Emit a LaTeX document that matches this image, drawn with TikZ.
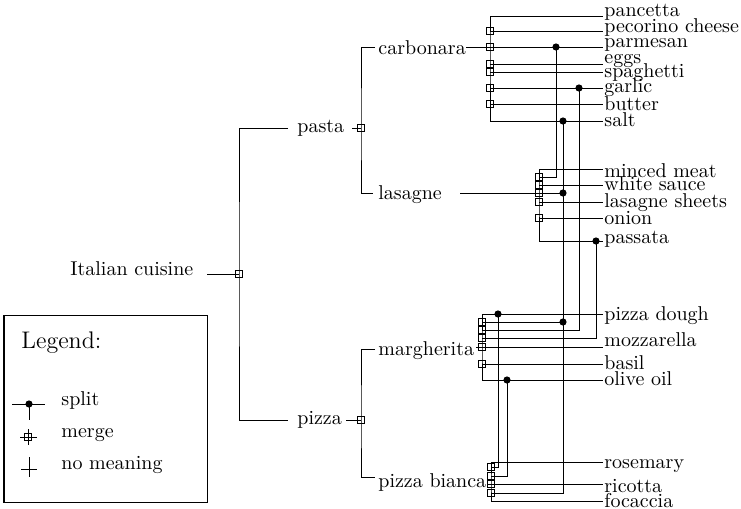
\documentclass[tikz,border=0pt]{standalone}
\usepackage{amsmath}
\usepackage{tikz}
\usetikzlibrary{calc}

\tikzset{
  wire/.style={line width=0.5pt},
  lbl/.style={anchor=base west,inner sep=0pt},
  mergebox/.style={draw,rectangle,line width=0.4pt,minimum size=3.3pt,inner sep=0pt},
  splitdot/.style={fill,circle,minimum size=3.6pt,inner sep=0pt}
}

\begin{document}
\begin{tikzpicture}[x=0.5pt,y=-0.5pt]
    \useasboundingbox (0,0) rectangle (741,509);
    % dishes
    \node[lbl] (cuisine) at (70,275) {Italian cuisine};
    \node[lbl] (pasta) at (297,132) {pasta};
    \node[lbl] (pizza) at (297,424) {pizza};
    \node[lbl] (carb) at (378,54) {carbonara};
    \node[lbl] (lasa) at (378,199) {lasagne};
    \node[lbl] (marg) at (378,355) {margherita};
    \node[lbl] (bian) at (378,487) {pizza bianca};
    % ingredients
    \node[lbl] (panc) at (604,16.5) {pancetta};
    \node[lbl] (peco) at (604,32) {pecorino cheese};
    \node[lbl] (parm) at (604,47.5) {parmesan};
    \node[lbl] (eggs) at (604,63) {eggs};
    \node[lbl] (spag) at (604,77.5) {spaghetti};
    \node[lbl] (garl) at (604,92.5) {garlic};
    \node[lbl] (butt) at (604,110) {butter};
    \node[lbl] (salt) at (604,126) {salt};
    \node[lbl] (minc) at (604,177) {minced meat};
    \node[lbl] (whit) at (604,190.5) {white sauce};
    \node[lbl] (shee) at (604,207.5) {lasagne sheets};
    \node[lbl] (onio) at (604,224.5) {onion};
    \node[lbl] (pass) at (604,243.5) {passata};
    \node[lbl] (doug) at (604,320.5) {pizza dough};
    \node[lbl] (mozz) at (604,346.5) {mozzarella};
    \node[lbl] (basi) at (604,369.5) {basil};
    \node[lbl] (oliv) at (604,385.5) {olive oil};
    \node[lbl] (rose) at (604,468) {rosemary};
    \node[lbl] (rico) at (604,492.5) {ricotta};
    \node[lbl] (foca) at (604,507.5) {focaccia};

    % ports next to the texts
    \coordinate (cuisine-r) at (207,274);
    \coordinate (pasta-l) at (288,128);
    \coordinate (pasta-r) at (352,128);
    \coordinate (pizza-l) at (288,420);
    \coordinate (pizza-r) at (346,420);
    \coordinate (carb-l) at (375,47);
    \coordinate (carb-r) at (466,47);
    \coordinate (lasa-l) at (373,193);
    \coordinate (lasa-r) at (460,193);
    \coordinate (marg-l) at (375,349);
    \coordinate (marg-r) at (476,347);
    \coordinate (bian-l) at (375,477);
    \coordinate (bian-r) at (487,484);
    \coordinate (panc-p) at (603,16);
    \coordinate (peco-p) at (603,31);
    \coordinate (parm-p) at (603,47);
    \coordinate (eggs-p) at (603,64);
    \coordinate (spag-p) at (603,72);
    \coordinate (garl-p) at (603,88);
    \coordinate (butt-p) at (603,104);
    \coordinate (salt-p) at (603,121);
    \coordinate (minc-p) at (603,169);
    \coordinate (whit-p) at (603,185);
    \coordinate (shee-p) at (603,202);
    \coordinate (onio-p) at (603,218);
    \coordinate (pass-p) at (603,241);
    \coordinate (doug-p) at (603,314);
    \coordinate (mozz-p) at (603,347);
    \coordinate (basi-p) at (603,364);
    \coordinate (oliv-p) at (603,380);
    \coordinate (rose-p) at (603,462);
    \coordinate (rico-p) at (603,484);
    \coordinate (foca-p) at (603,501);

    % merge points
    \coordinate (m-cuisine) at (239,274);
    \coordinate (m-pasta) at (361,128);
    \coordinate (m-pizza) at (361,420);
    \coordinate (m-peco) at (490,31);
    \coordinate (m-parm) at (490,47);
    \coordinate (m-eggs) at (490,64);
    \coordinate (m-spag) at (490,72);
    \coordinate (m-garl) at (490,88);
    \coordinate (m-butt) at (490,104);
    \coordinate (m-lparm) at (539,177);
    \coordinate (m-whit) at (539,185);
    \coordinate (m-lasa) at (539,193);
    \coordinate (m-shee) at (539,202);
    \coordinate (m-onio) at (539,218);
    \coordinate (m-msalt) at (482,322);
    \coordinate (m-mgarl) at (482,330);
    \coordinate (m-mpass) at (482,338);
    \coordinate (m-marg) at (482,347);
    \coordinate (m-basi) at (482,364);
    \coordinate (m-bdoug) at (491,467);
    \coordinate (m-boliv) at (491,476);
    \coordinate (m-bian) at (491,484);
    \coordinate (m-bsalt) at (491,493);

    % split points
    \coordinate (s-parm) at (556,47);
    \coordinate (s-garl) at (579,88);
    \coordinate (s-salt) at (563,121);
    \coordinate (s-lsalt) at (563,193);
    \coordinate (s-msalt) at (563,322);
    \coordinate (s-pass) at (596,241);
    \coordinate (s-doug) at (498,314);
    \coordinate (s-oliv) at (507,380);

    % tree
    \draw[wire] (cuisine-r) -- (m-cuisine);
    \draw[wire] (pasta-l) -| (m-cuisine) |- (pizza-l);
    \draw[wire] (pasta-r) -- (m-pasta);
    \draw[wire] (carb-l) -| (m-pasta) |- (lasa-l);
    \draw[wire] (pizza-r) -- (m-pizza);
    \draw[wire] (marg-l) -| (m-pizza) |- (bian-l);

    % carbonara
    \draw[wire] (carb-r) -- (m-parm);
    \draw[wire] (panc-p) -| (m-parm) |- (salt-p);
    \path[wire]
      (m-peco) edge (peco-p)
      (m-parm) edge (parm-p)
      (m-eggs) edge (eggs-p)
      (m-spag) edge (spag-p)
      (m-garl) edge (garl-p)
      (m-butt) edge (butt-p);

    % lasagne
    \draw[wire] (lasa-r) -- (m-lasa);
    \draw[wire] (minc-p) -| (m-lasa) |- (pass-p);
    \path[wire]
      (m-whit) edge (whit-p)
      (m-shee) edge (shee-p)
      (m-onio) edge (onio-p);

    % margherita
    \draw[wire] (marg-r) -- (m-marg);
    \draw[wire] (doug-p) -| (m-marg) |- (oliv-p);
    \path[wire]
      (m-marg) edge (mozz-p)
      (m-basi) edge (basi-p);

    % pizza bianca
    \draw[wire] (bian-r) -- (m-bian);
    \draw[wire] (rose-p) -| (m-bian) |- (foca-p);
    \path[wire] (m-bian) edge (rico-p);

    % shared ingredients
    \draw[wire] (s-parm) |- (m-lparm);
    \draw[wire] (s-salt) |- (m-bsalt);
    \draw[wire] (m-lasa) -- (s-lsalt);
    \draw[wire] (m-msalt) -- (s-msalt);
    \draw[wire] (s-garl) |- (m-mgarl);
    \draw[wire] (s-pass) |- (m-mpass);
    \draw[wire] (s-doug) |- (m-bdoug);
    \draw[wire] (s-oliv) |- (m-boliv);

    % merge boxes
    \node[mergebox] (b-cuisine) at (m-cuisine) {};
    \node[mergebox] (b-pasta) at (m-pasta) {};
    \node[mergebox] (b-pizza) at (m-pizza) {};
    \node[mergebox] (b-peco) at (m-peco) {};
    \node[mergebox] (b-parm) at (m-parm) {};
    \node[mergebox] (b-eggs) at (m-eggs) {};
    \node[mergebox] (b-spag) at (m-spag) {};
    \node[mergebox] (b-garl) at (m-garl) {};
    \node[mergebox] (b-butt) at (m-butt) {};
    \node[mergebox] (b-lparm) at (m-lparm) {};
    \node[mergebox] (b-whit) at (m-whit) {};
    \node[mergebox] (b-lasa) at (m-lasa) {};
    \node[mergebox] (b-shee) at (m-shee) {};
    \node[mergebox] (b-onio) at (m-onio) {};
    \node[mergebox] (b-msalt) at (m-msalt) {};
    \node[mergebox] (b-mgarl) at (m-mgarl) {};
    \node[mergebox] (b-mpass) at (m-mpass) {};
    \node[mergebox] (b-marg) at (m-marg) {};
    \node[mergebox] (b-basi) at (m-basi) {};
    \node[mergebox] (b-bdoug) at (m-bdoug) {};
    \node[mergebox] (b-boliv) at (m-boliv) {};
    \node[mergebox] (b-bian) at (m-bian) {};
    \node[mergebox] (b-bsalt) at (m-bsalt) {};

    % split dots
    \node[splitdot] (d-parm) at (s-parm) {};
    \node[splitdot] (d-garl) at (s-garl) {};
    \node[splitdot] (d-salt) at (s-salt) {};
    \node[splitdot] (d-lsalt) at (s-lsalt) {};
    \node[splitdot] (d-msalt) at (s-msalt) {};
    \node[splitdot] (d-pass) at (s-pass) {};
    \node[splitdot] (d-doug) at (s-doug) {};
    \node[splitdot] (d-oliv) at (s-oliv) {};

    % legend
    \draw[wire] (4,315) rectangle (207,502);
    \node[lbl,font=\large] (legend) at (21,348) {Legend:};
    \node[lbl] (l-split) at (61,405) {split};
    \node[lbl] (l-merge) at (61,437) {merge};
    \node[lbl] (l-none) at (61,469) {no meaning};
    \coordinate (ls) at (29,404);
    \coordinate (lm) at (28,437);
    \coordinate (ln) at (29,469);
    \draw[wire] (ls) ++(-17,0) -- ++(33,0);
    \draw[wire] (ls) -- ++(0,16);
    \node[splitdot] (ls-dot) at (ls) {};
    \draw[wire] (lm) ++(-8,0) -- ++(17,0);
    \draw[wire] (lm) ++(0,-8) -- ++(0,16);
    \node[mergebox] (lm-box) at (lm) {};
    \draw[wire] (ln) ++(-8,0) -- ++(16,0);
    \draw[wire] (ln) ++(0,-12) -- ++(0,20);
\end{tikzpicture}
\end{document}
